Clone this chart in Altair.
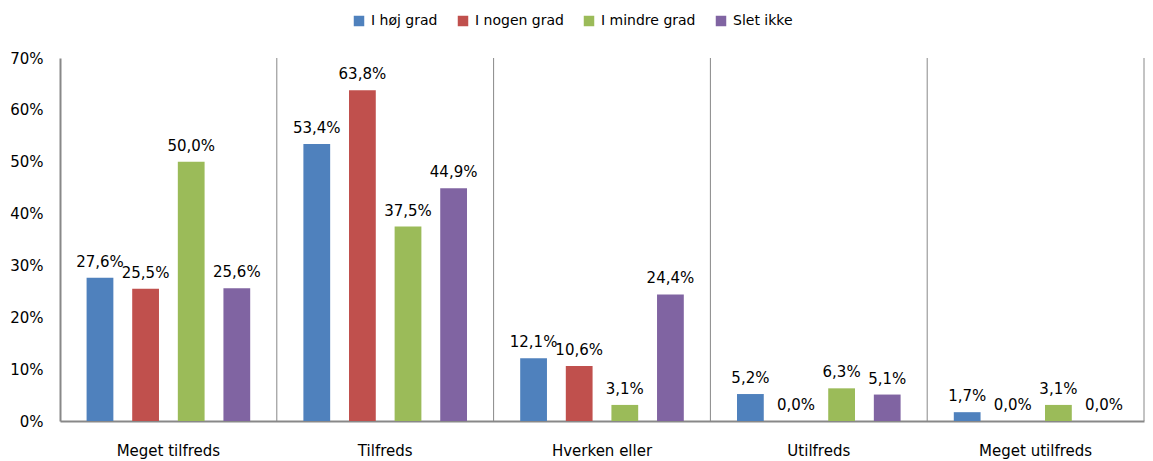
import altair as alt
import pandas as pd

categories = ["Meget tilfreds", "Tilfreds", "Hverken eller", "Utilfreds", "Meget utilfreds"]
series = ["I høj grad", "I nogen grad", "I mindre grad", "Slet ikke"]
colors = ["#4F81BD", "#C0504D", "#9BBB59", "#8064A2"]
hoej = [27.6, 53.4, 12.1, 5.2, 1.7]
nogen = [25.5, 63.8, 10.6, 0.0, 0.0]
mindre = [50.0, 37.5, 3.1, 6.3, 3.1]
slet = [25.6, 44.9, 24.4, 5.1, 0.0]
y_ticks = [0, 10, 20, 30, 40, 50, 60, 70]

rows = []
for s, vals in zip(series, [hoej, nogen, mindre, slet]):
    for c, v in zip(categories, vals):
        rows.append({"cat": c, "serie": s, "value": v,
                     "label": f"{v:.1f}".replace(".", ",") + "%"})
df = pd.DataFrame(rows)
sep = pd.DataFrame({"cat": categories})

FONT = "DejaVu Sans"
GREY = "#888888"

x_scale = alt.Scale(domain=categories, paddingInner=0, paddingOuter=0)
xo_scale = alt.Scale(domain=series, paddingInner=0.413, paddingOuter=0.583)
y_scale = alt.Scale(domain=[0, 70], nice=False)

x_enc = alt.X("cat:N", scale=x_scale, sort=categories,
              axis=alt.Axis(title=None, labelAngle=0, labelAlign="center",
                            labelBaseline="middle",
                            ticks=False, grid=False,
                            domainColor=GREY, domainWidth=2,
                            labelFont=FONT, labelFontSize=15, labelColor="#000000",
                            labelPadding=29))
y_enc = alt.Y("value:Q", scale=y_scale,
              axis=alt.Axis(title=None, values=y_ticks, ticks=False, grid=False,
                            domainColor=GREY, domainWidth=2,
                            labelExpr="datum.value + '%'",
                            labelFont=FONT, labelFontSize=15, labelColor="#000000",
                            labelPadding=17))

bars = alt.Chart(df).mark_bar().encode(
    x=x_enc,
    xOffset=alt.XOffset("serie:N", scale=xo_scale, sort=series),
    y=y_enc,
    color=alt.Color("serie:N", sort=series,
                    scale=alt.Scale(domain=series, range=colors),
                    legend=alt.Legend(title=None, orient="none", direction="horizontal",
                                      legendX=292, legendY=-44,
                                      symbolType="square", symbolSize=110,
                                      symbolStrokeWidth=0,
                                      labelFont=FONT, labelFontSize=14,
                                      labelColor="#000000",
                                      labelOffset=5, columnPadding=18)),
)

texts = alt.Chart(df).mark_text(baseline="bottom", dy=-8, font=FONT, fontSize=15,
                                color="#000000").encode(
    x=alt.X("cat:N", scale=x_scale, sort=categories),
    xOffset=alt.XOffset("serie:N", scale=xo_scale, sort=series),
    y=alt.Y("value:Q", scale=y_scale),
    text="label:N",
)

rules = alt.Chart(sep).mark_rule(color=GREY, strokeWidth=1).encode(
    x=alt.X("cat:N", scale=x_scale, sort=categories, bandPosition=1),
)

chart = alt.layer(rules, bars, texts).properties(
    width=1084, height=363,
    autosize=alt.AutoSizeParams(type="none"),
    padding={"left": 52, "top": 50, "right": 1, "bottom": 38},
).configure_view(stroke=None)

chart.save("out.html", embed_options={"renderer": "svg", "actions": False})
